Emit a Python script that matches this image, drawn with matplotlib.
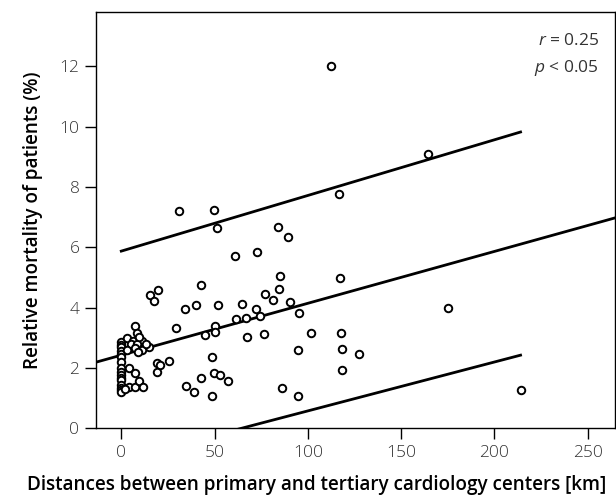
import matplotlib
matplotlib.use("Agg")
import matplotlib.pyplot as plt

# --------- Data ---------
distance_km = [
    0, 0, 0, 0, 0, 0, 0, 0, 0, 0, 0, 0, 0, 0, 0, 0,
    3.2, 6.4, 11.2, 5.4, 8.6, 7.5, 15.0, 11.2, 9.0, 7.5, 8.6, 9.6, 4.3, 7.5,
    4.3, 7.5, 9.6, 11.8, 2.0, 3.0, 13.0,
    15.5, 19.8, 17.7, 19.3, 20.9, 25.7, 19.3, 29.4, 34.3, 40.1, 42.8, 51.9,
    64.8, 61.6, 66.9, 50.3, 50.3, 45.0, 67.5, 48.7, 49.8, 53.0, 42.8, 57.3,
    34.8, 39.1, 48.7, 31.0, 49.8, 51.4, 61.0, 72.8, 84.0, 89.4, 85.1, 84.6,
    77.1, 81.4, 90.5, 72.3, 95.3, 74.4, 76.6, 101.7, 94.8, 86.2, 94.8,
    112.4, 164.3, 116.7, 117.2, 175.0, 117.8, 118.3, 127.4, 118.3, 214.0,
]
mortality_pct = [
    2.86, 2.75, 2.69, 2.56, 2.46, 2.35, 2.19, 1.99, 1.85, 1.76, 1.66, 1.59,
    1.43, 1.33, 1.26, 1.20,
    2.99, 2.89, 2.89, 2.79, 2.79, 2.66, 2.69, 2.59, 2.53, 3.39, 3.16, 3.02,
    1.99, 1.83, 1.36, 1.36, 1.56, 1.36, 1.30, 2.60, 2.80,
    4.42, 4.58, 4.22, 2.16, 2.09, 2.23, 1.86, 3.32, 3.95, 4.09, 4.75, 4.09,
    4.12, 3.62, 3.65, 3.39, 3.19, 3.09, 3.02, 2.36, 1.83, 1.76, 1.66, 1.56,
    1.40, 1.20, 1.05, 7.21, 7.24, 6.64, 5.71, 5.85, 6.68, 6.35, 5.05, 4.62,
    4.45, 4.25, 4.18, 3.96, 3.82, 3.72, 3.12, 3.16, 2.59, 1.33, 1.05,
    12.0, 9.10, 7.77, 4.98, 3.99, 3.15, 2.62, 2.45, 1.93, 1.27,
]

# regression line and prediction band
fit_intercept = 2.42
fit_slope = 0.0172
band_x = [0, 214]
band_upper = [5.87, 9.82]
band_lower = [-1.05, 2.42]

x_ticks = [0, 50, 100, 150, 200, 250]
y_ticks = [0, 2, 4, 6, 8, 10, 12]

# --------- Style ---------
plt.rcParams['font.family'] = ['Open Sans', 'DejaVu Sans']
plt.rcParams['mathtext.fontset'] = 'custom'
plt.rcParams['mathtext.rm'] = 'Open Sans'
plt.rcParams['mathtext.it'] = 'Open Sans:italic'

fig = plt.figure(figsize=(6.16, 4.99), dpi=100)
ax = fig.add_axes([0.156, 0.142, 0.842, 0.834])

ax.axline((0, fit_intercept), slope=fit_slope, color='black', lw=2.0, zorder=2)
ax.plot(band_x, band_upper, color='black', lw=2.0, zorder=2)
ax.plot(band_x, band_lower, color='black', lw=2.0, zorder=2)

ax.plot(distance_km, mortality_pct, linestyle='none', marker='o',
        markersize=5.4, markerfacecolor='white', markeredgecolor='black',
        markeredgewidth=1.4, zorder=3)

ax.set_xlim(-13.5, 264.5)
ax.set_ylim(0, 13.8)
ax.set_xticks(x_ticks)
ax.set_yticks(y_ticks)

for side in ['left', 'right', 'top', 'bottom']:
    ax.spines[side].set_linewidth(1.0)
ax.tick_params(direction='out', length=8, width=1.0, labelsize=12.5,
               labelcolor='#333333', pad=4)
for lab in ax.get_xticklabels() + ax.get_yticklabels():
    lab.set_fontweight('light')

# x label sits centred on the figure, not the axes
fig.text(317 / 616, 0.028,
         'Distances between primary and tertiary cardiology centers [km]',
         ha='center', va='center', fontsize=13.6, fontweight='semibold')
ax.set_ylabel('Relative mortality of patients (%)',
              fontsize=13.6, fontweight='semibold', labelpad=12)

ax.text(0.97, 0.93, '$\\mathit{r}$ = 0.25', transform=ax.transAxes,
        ha='right', va='center', fontsize=12.5, color='#333333')
ax.text(0.97, 0.865, '$\\mathit{p}$ < 0.05', transform=ax.transAxes,
        ha='right', va='center', fontsize=12.5, color='#333333')

plt.savefig('out.png', dpi=100)
